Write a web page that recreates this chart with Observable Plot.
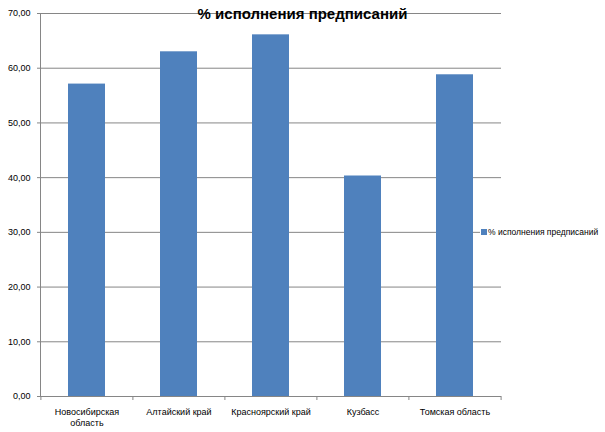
<!DOCTYPE html>
<html><head><meta charset="utf-8">
<script src="https://cdn.jsdelivr.net/npm/d3@7"></script>
<script src="https://cdn.jsdelivr.net/npm/@observablehq/plot@0.6"></script>
<style>
body{margin:0;background:#fff;}
#wrap{position:relative;width:605px;height:432px;font-family:"Liberation Sans",Arial,sans-serif;color:#000;}
#title{position:absolute;left:0;width:605px;top:5px;text-align:center;font-weight:bold;font-size:15px;line-height:18px;}
#legend{position:absolute;left:480px;top:225px;background:#fff;font-size:8.5px;line-height:14px;display:flex;align-items:center;padding:0 2px 0 1px;white-space:nowrap;}
#legend .sw{display:inline-block;width:6px;height:6px;background:#4F81BD;margin-right:1px;flex:none;}
</style></head><body>
<div id="wrap"><div id="chart"></div><div id="title"></div><div id="legend"><span class="sw"></span><span id="legtext"></span></div></div>
<script>
const regions = ["Новосибирская область", "Алтайский край", "Красноярский край", "Кузбасс", "Томская область"];
const xLabels = ["Новосибирская\nобласть", "Алтайский край", "Красноярский край", "Кузбасс", "Томская область"];
const values = [57.1, 63.0, 66.1, 40.3, 58.8];
const yTicks = [0, 10, 20, 30, 40, 50, 60, 70];
const seriesName = "% исполнения предписаний";
const chartTitle = "% исполнения предписаний";

const data = regions.map((r, i) => ({region: r, value: values[i]}));
const labelOf = new Map(regions.map((r, i) => [r, xLabels[i]]));

const W = 605, H = 432, mL = 40, mR = 104, mT = 13, mB = 36;
const step = (W - mL - mR) / regions.length;
const grid = "#868686";
const fmt = d => d.toFixed(2).replace(".", ",");

const chart = Plot.plot({
  width: W, height: H,
  marginLeft: mL, marginRight: mR, marginTop: mT, marginBottom: mB,
  style: {fontFamily: "Liberation Sans, Arial, sans-serif", fontSize: "9px", background: "#fff", color: "#000"},
  x: {domain: regions, paddingInner: 0.6, paddingOuter: 0.3, label: null},
  y: {domain: [0, 70], label: null},
  marks: [
    Plot.ruleY(yTicks, {stroke: grid, insetLeft: -3}),
    Plot.barY(data, {x: "region", y: "value", fill: "#4F81BD"}),
    Plot.frame({anchor: "left", stroke: grid}),
    Plot.ruleX(regions, {x: d => d, y1: 0, y2: 0, dx: -step / 2, insetBottom: -4, stroke: grid}),
    Plot.ruleX(regions.slice(-1), {x: d => d, y1: 0, y2: 0, dx: step / 2, insetBottom: -4, stroke: grid}),
    Plot.axisY({ticks: yTicks, tickSize: 0, tickPadding: 10, tickFormat: fmt, fontSize: 9, fill: "#000"}),
    Plot.axisX({tickSize: 0, tickPadding: 11, tickFormat: d => labelOf.get(d), fontSize: 9, lineHeight: 1.2, fill: "#000"})
  ]
});
document.getElementById("chart").appendChild(chart);
document.getElementById("title").textContent = chartTitle;
document.getElementById("legtext").textContent = seriesName;
</script>
</body></html>
